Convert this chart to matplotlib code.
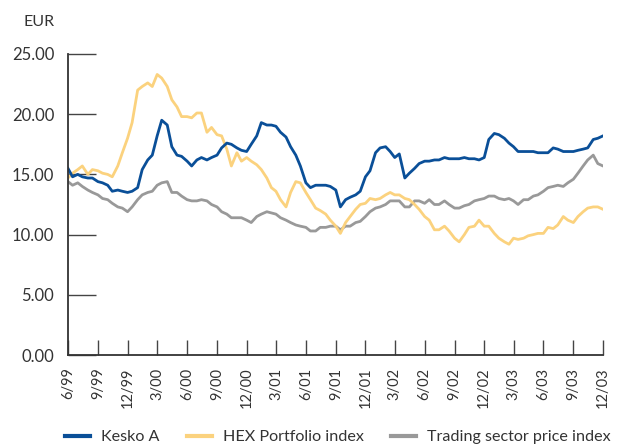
import matplotlib
matplotlib.use("Agg")
import matplotlib.pyplot as plt
import pandas as pd

# semimonthly sample dates, 6/99 .. 12/03
dates = pd.date_range("1999-06-01", "2003-12-01", freq="SMS")

kesko = [15.5, 14.8, 15.0, 14.8, 14.7, 14.7, 14.4, 14.3, 14.1, 13.6,
         13.7, 13.6, 13.5, 13.6, 13.9, 15.4, 16.2, 16.6, 18.2, 19.5,
         19.1, 17.3, 16.6, 16.5, 16.1, 15.7, 16.2, 16.4, 16.2, 16.4,
         16.6, 17.2, 17.6, 17.5, 17.2, 17.0, 16.9, 17.5, 18.2, 19.3,
         19.1, 19.1, 19.0, 18.5, 18.1, 17.3, 16.6, 15.7, 14.3, 13.9,
         14.1, 14.1, 14.1, 14.0, 13.7, 12.3, 12.9, 13.1, 13.3, 13.6,
         14.8, 15.3, 16.8, 17.2, 17.3, 16.9, 16.4, 16.7, 14.7, 15.1,
         15.5, 15.9, 16.1, 16.1, 16.2, 16.2, 16.4, 16.3, 16.3, 16.3,
         16.4, 16.3, 16.3, 16.2, 16.4, 17.9, 18.4, 18.3, 18.0, 17.6,
         17.3, 16.9, 16.9, 16.9, 16.9, 16.8, 16.8, 16.8, 17.2, 17.1,
         16.9, 16.9, 16.9, 17.0, 17.1, 17.2, 17.9, 18.0, 18.2]

hex_index = [14.7, 15.1, 15.4, 15.7, 15.0, 15.4, 15.3, 15.1, 15.0, 14.8,
             15.7, 16.8, 18.0, 19.3, 22.0, 22.3, 22.6, 22.3, 23.3, 23.0,
             22.3, 21.2, 20.6, 19.8, 19.8, 19.7, 20.1, 20.1, 18.5, 18.9,
             18.3, 18.2, 17.1, 15.7, 16.8, 16.1, 16.4, 16.1, 15.8, 15.4,
             14.7, 13.9, 13.6, 12.9, 12.3, 13.5, 14.4, 14.3, 13.5, 12.9,
             12.2, 12.0, 11.7, 11.2, 10.7, 10.1, 11.0, 11.5, 12.1, 12.5,
             12.6, 13.0, 12.9, 13.0, 13.3, 13.5, 13.3, 13.3, 13.0, 12.9,
             12.5, 12.1, 11.5, 11.2, 10.4, 10.4, 10.7, 10.3, 9.7, 9.4,
             10.0, 10.6, 10.7, 11.2, 10.7, 10.7, 10.1, 9.7, 9.4, 9.2,
             9.7, 9.6, 9.7, 9.9, 10.0, 10.1, 10.1, 10.6, 10.5, 10.8,
             11.5, 11.2, 11.0, 11.5, 11.9, 12.2, 12.3, 12.3, 12.1]

trading = [14.4, 14.1, 14.3, 14.0, 13.7, 13.5, 13.3, 13.0, 12.9, 12.6,
           12.3, 12.2, 11.9, 12.3, 12.9, 13.3, 13.5, 13.6, 14.1, 14.3,
           14.4, 13.5, 13.5, 13.2, 12.9, 12.8, 12.8, 12.9, 12.8, 12.5,
           12.3, 11.9, 11.7, 11.4, 11.4, 11.4, 11.2, 11.0, 11.5, 11.7,
           11.9, 11.8, 11.7, 11.4, 11.2, 11.0, 10.8, 10.7, 10.6, 10.3,
           10.3, 10.6, 10.6, 10.7, 10.7, 10.4, 10.7, 10.7, 11.0, 11.1,
           11.5, 11.9, 12.2, 12.3, 12.5, 12.8, 12.8, 12.8, 12.3, 12.3,
           12.8, 12.8, 12.6, 12.9, 12.5, 12.5, 12.8, 12.5, 12.2, 12.2,
           12.4, 12.5, 12.8, 12.9, 13.0, 13.2, 13.2, 13.0, 12.9, 13.0,
           12.8, 12.5, 12.9, 12.9, 13.2, 13.3, 13.6, 13.9, 14.0, 14.1,
           14.0, 14.3, 14.6, 15.1, 15.7, 16.2, 16.6, 15.9, 15.7]

tick_dates = pd.date_range("1999-06-01", "2003-12-01", freq="3MS")
tick_labels = ["6/99", "9/99", "12/99", "3/00", "6/00", "9/00", "12/00",
               "3/01", "6/01", "9/01", "12/01", "3/02", "6/02", "9/02",
               "12/02", "3/03", "6/03", "9/03", "12/03"]
y_ticks = [0, 5, 10, 15, 20, 25]

text_col = "#333333"
plt.rcParams["font.family"] = ["Lato", "DejaVu Sans"]

fig = plt.figure(figsize=(6.27, 4.47), dpi=100)
ax = fig.add_axes([68 / 627, 1 - 355 / 447, 535 / 627, 301 / 447])

# drawn back to front: trading sector, HEX, Kesko on top
l3, = ax.plot(dates, trading, color="#999999", lw=2, label="Trading sector price index")
l2, = ax.plot(dates, hex_index, color="#fbd27e", lw=2, label="HEX Portfolio index")
l1, = ax.plot(dates, kesko, color="#0a4f98", lw=2, label="Kesko A")

ax.set_xlim(dates[0], dates[-1])
ax.set_ylim(0, 25)
ax.set_yticks(y_ticks)
ax.set_yticklabels([f"{v:.2f}" for v in y_ticks])
ax.set_xticks(tick_dates)
ax.set_xticklabels(tick_labels, rotation=90)

for s in ["top", "right"]:
    ax.spines[s].set_visible(False)
for s in ["left", "bottom"]:
    ax.spines[s].set_color("#333333")
    ax.spines[s].set_linewidth(1.3)

ax.tick_params(axis="y", direction="in", length=20, width=1, color="#444444",
               pad=10, labelcolor=text_col, labelsize=12)
ax.tick_params(axis="x", direction="in", length=11, width=1, color="#444444",
               pad=9, labelcolor=text_col, labelsize=10.5)

fig.text(55 / 627, 1 - 22 / 447, "EUR", ha="right", va="center",
         color=text_col, fontsize=11.5)

fig.legend(handles=[l1, l2, l3], loc="center left",
           bbox_to_anchor=(65 / 627, 1 - 437 / 447), ncol=3, frameon=False,
           borderpad=0, borderaxespad=0, handlelength=1.55, handletextpad=0.68,
           columnspacing=1.7, fontsize=11.6, labelcolor=text_col)
for h in fig.legends[0].legend_handles:
    h.set_linewidth(3)

fig.savefig("out.png", dpi=100)
